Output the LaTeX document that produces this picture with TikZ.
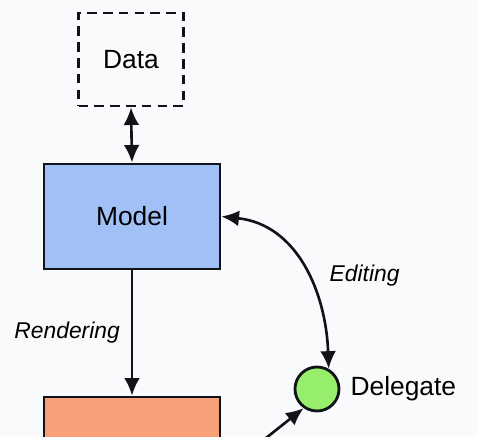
\documentclass[tikz,border=0pt]{standalone}
\usepackage{fontspec}
\setmainfont{Liberation Sans}
\usetikzlibrary{arrows.meta,calc,positioning}

\definecolor{modelblue}{RGB}{160,192,246}
\definecolor{vieworange}{RGB}{248,160,120}
\definecolor{delegategreen}{RGB}{150,238,108}
\definecolor{edgedark}{RGB}{18,18,26}
\definecolor{paper}{RGB}{248,250,252}

\tikzset{
    box/.style = {draw=edgedark, line width=1.6pt, minimum width=3.52cm, minimum height=2.1cm, font=\fontsize{15}{18}\selectfont},
    databox/.style = {draw=edgedark, line width=1.6pt, dash pattern=on 5.5pt off 3.5pt, minimum width=2.1cm, minimum height=1.86cm, font=\fontsize{15}{18}\selectfont},
    link/.style = {draw=edgedark, line width=1.5pt, -{Latex[length=10pt,width=9pt]}},
    twolink/.style = {link, {Latex[length=10pt,width=9pt]}-{Latex[length=10pt,width=9pt]}},
    flowlabel/.style = {font=\fontsize{13}{15}\selectfont\itshape}
}

\begin{document}
\begin{tikzpicture}
    % frame
    \useasboundingbox (0,0) rectangle (9.56,8.72);
    \fill[paper] (0,0) rectangle (9.56,8.72);
    \clip (0,0) rectangle (9.56,8.72);
    % point
    \coordinate (D) at (2.62,7.53);
    \coordinate (M) at (2.64,4.39);
    \coordinate (V) at (2.64,-0.27);
    \coordinate (E) at (6.34,0.94);
    % boxes
    \node[databox] (data) at (D) {Data};
    \node[box, fill=modelblue] (model) at (M) {Model};
    \node[box, fill=vieworange] (view) at (V) {};
    % delegate
    \node[circle, draw=edgedark, line width=1.6pt, fill=delegategreen, minimum size=0.88cm,
          label={[font=\fontsize{15}{18}\selectfont, xshift=0.08cm]right:Delegate}] (delegate) at (E) {};
    % arrows
    \path[twolink] (data.south) -- (model.north);
    \path[link] (model.south) -- node[midway, left, flowlabel, xshift=-0.1cm] {Rendering} (view.north);
    \path[twolink] (model.east) to[out=-6, in=92, looseness=1.05]
        node[pos=0.5, right, flowlabel, xshift=0.4cm, yshift=-0.18cm] {Editing} (delegate.60);
    \path[link] (view.-15) -- (delegate.235);
\end{tikzpicture}
\end{document}
